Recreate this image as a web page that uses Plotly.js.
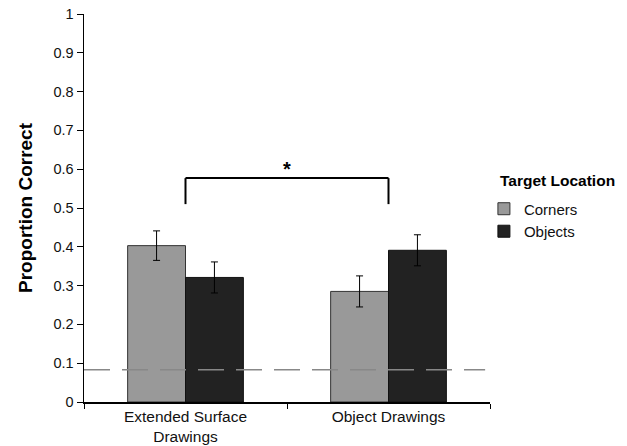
<!DOCTYPE html>
<html><head><meta charset="utf-8">
<script src="https://cdn.plot.ly/plotly-3.0.1.min.js"></script>
<style>html,body{margin:0;padding:0;background:#fff}#chart{width:627px;height:446px}</style>
</head><body><div id="chart"></div>
<script>
const categories = ["Extended Surface<br>Drawings", "Object Drawings"];
const seriesNames = ["Corners", "Objects"];
const cornersValues = [0.403, 0.285];
const cornersErrors = [0.038, 0.04];
const objectsValues = [0.321, 0.391];
const objectsErrors = [0.04, 0.04];
const chanceLevel = 0.083;
const bracketLow = 0.51;
const bracketHigh = 0.577;
const yTicks = [0,0.1,0.2,0.3,0.4,0.5,0.6,0.7,0.8,0.9,1];
const legendTitle = "Target Location";

const font = "Liberation Sans, Arial, Helvetica, sans-serif";
const traces = [
  {type:'bar', name:seriesNames[0], x:categories, y:cornersValues,
   marker:{color:'#999999', line:{color:'#333333', width:1}},
   error_y:{type:'data', array:cornersErrors, visible:true, color:'#000', thickness:1, width:3.5}},
  {type:'bar', name:seriesNames[1], x:categories, y:objectsValues,
   marker:{color:'#222222', line:{color:'#111111', width:1}},
   error_y:{type:'data', array:objectsErrors, visible:true, color:'#000', thickness:1, width:3.5}}
];
const layout = {
  width:627, height:446,
  margin:{l:84, r:137, t:14, b:44},
  paper_bgcolor:'#fff', plot_bgcolor:'#fff',
  font:{family:font, color:'#000', size:14},
  barmode:'group', bargap:0.43, bargroupgap:0,
  showlegend:true,
  legend:{x:0.985, y:0.54, xanchor:'left', yanchor:'top',
    font:{size:15, family:font, color:'#111'}, tracegroupgap:2, itemwidth:30, bgcolor:'rgba(0,0,0,0)'},
  xaxis:{type:'category', showline:true, linecolor:'#000', linewidth:1.5,
    ticks:'outside', tickson:'boundaries', ticklen:5, tickcolor:'#000',
    tickfont:{size:15.5, family:font, color:'#111'}, showgrid:false, zeroline:false},
  yaxis:{range:[0,1], tickvals:yTicks, ticktext:yTicks.map(v=>String(v)),
    showline:true, linecolor:'#000', linewidth:1.5, ticks:'outside', ticklen:6, tickcolor:'#000',
    showgrid:false, zeroline:false, tickfont:{size:14.5, family:font, color:'#111'},
    title:{text:'<b>Proportion Correct</b>', font:{size:19, family:font}, standoff:16}},
  shapes:[
    {type:'line', xref:'paper', yref:'y', x0:0, x1:0.988, y0:chanceLevel, y1:chanceLevel,
     line:{color:'#888888', width:1.5, dash:'26px,12px'}},
    {type:'line', xref:'x', yref:'y', x0:categories[0], x1:categories[0], y0:bracketLow, y1:bracketHigh, line:{color:'#000', width:2}},
    {type:'line', xref:'x', yref:'y', x0:categories[0], x1:categories[1], y0:bracketHigh, y1:bracketHigh, line:{color:'#000', width:2}},
    {type:'line', xref:'x', yref:'y', x0:categories[1], x1:categories[1], y0:bracketLow, y1:bracketHigh, line:{color:'#000', width:2}}
  ],
  annotations:[
    {xref:'paper', yref:'y', x:0.5, y:bracketHigh, yanchor:'bottom', text:'<b>*</b>', showarrow:false, font:{size:20, family:font}, yshift:-4},
    {xref:'paper', yref:'paper', x:1.02, y:0.572, xanchor:'left', yanchor:'middle', text:'<b>'+legendTitle+'</b>', showarrow:false, font:{size:15.5, family:font}}
  ]
};
Plotly.newPlot('chart', traces, layout, {displayModeBar:false, staticPlot:true});
</script></body></html>
